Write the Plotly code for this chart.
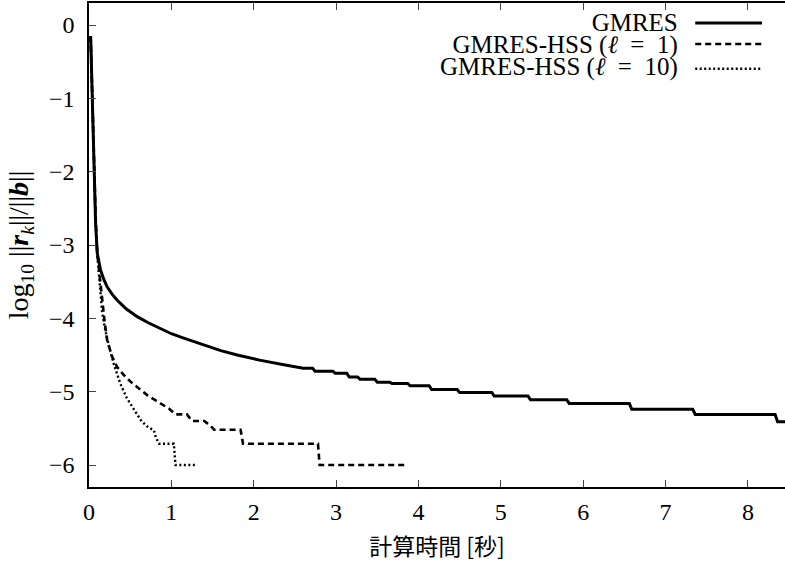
import plotly.graph_objects as go

# ---- data ----
gmres_t = [0.02, 0.04, 0.06, 0.08, 0.10, 0.14, 0.18, 0.22, 0.28, 0.34, 0.45, 0.59, 0.72, 0.87, 1.00, 1.15,
           1.30, 1.45, 1.60, 1.80, 2.07, 2.35, 2.60,
           2.715, 2.745, 2.96, 2.99, 3.13, 3.16, 3.26, 3.29, 3.47, 3.50, 3.65, 3.68, 3.87, 3.90,
           4.13, 4.16, 4.47, 4.50, 4.89, 4.92, 5.33, 5.36, 5.80, 5.83, 6.56, 6.59, 7.33, 7.36,
           8.33, 8.36, 8.60]
gmres_r = [-0.15, -1.0, -2.0, -2.7, -3.11, -3.34, -3.47, -3.57, -3.67, -3.75, -3.87, -3.98, -4.06, -4.14, -4.21, -4.27,
           -4.33, -4.39, -4.44, -4.50, -4.57, -4.63, -4.68,
           -4.68, -4.72, -4.72, -4.75, -4.75, -4.80, -4.80, -4.83, -4.83, -4.87, -4.87, -4.89, -4.89, -4.92,
           -4.92, -4.97, -4.97, -5.01, -5.01, -5.06, -5.06, -5.11, -5.11, -5.16, -5.16, -5.24, -5.24, -5.31,
           -5.31, -5.41, -5.41]

hss1_t = [0.02, 0.04, 0.06, 0.08, 0.10, 0.13, 0.16, 0.19, 0.22, 0.28, 0.34, 0.42, 0.51, 0.63, 0.71,
          0.81, 0.97, 1.05, 1.19, 1.25, 1.40, 1.48, 1.52, 1.84, 1.87, 2.78, 2.80, 3.83]
hss1_r = [-0.15, -1.0, -2.0, -2.6, -3.11, -3.45, -3.75, -4.05, -4.30, -4.52, -4.66, -4.77, -4.87, -4.98, -5.05,
          -5.12, -5.23, -5.31, -5.31, -5.40, -5.40, -5.47, -5.52, -5.52, -5.71, -5.71, -6.0, -6.0]

hss10_t = [0.02, 0.04, 0.06, 0.08, 0.10, 0.13, 0.16, 0.20, 0.24, 0.30, 0.38, 0.46, 0.55, 0.63, 0.70,
           0.79, 0.81, 0.85, 1.03, 1.05, 1.30]
hss10_r = [-0.15, -1.0, -2.0, -2.7, -3.11, -3.5, -3.93, -4.17, -4.37, -4.62, -4.89, -5.09, -5.25, -5.39, -5.47,
           -5.53, -5.62, -5.71, -5.71, -6.0, -6.0]

series_names = ["GMRES", "GMRES-HSS (<i>ℓ</i>\u2002=\u20021)", "GMRES-HSS (<i>ℓ</i>\u2002=\u200210)"]
x_ticks = [0, 1, 2, 3, 4, 5, 6, 7, 8]
y_ticks = [0, -1, -2, -3, -4, -5, -6]

SERIF = "Liberation Serif, DejaVu Serif, serif"
styles = [dict(width=3, dash="solid"), dict(width=2.6, dash="6px,4px"), dict(width=2.4, dash="2px,2.5px")]

fig = go.Figure()
for t, r, name, st in zip([gmres_t, hss1_t, hss10_t], [gmres_r, hss1_r, hss10_r], series_names, styles):
    fig.add_trace(go.Scatter(x=t, y=r, mode="lines", name=name, showlegend=False,
                             line=dict(color="black", width=st["width"], dash=st["dash"])))

# custom legend: one right-aligned text block (tight rows), samples on the right
legend_text = "<br>".join('<span style="font-size:25px">%s</span>' % n for n in series_names)
fig.add_annotation(x=0.849, y=0.9134, xref="paper", yref="paper", text=legend_text, showarrow=False,
                   xanchor="right", yanchor="middle", align="right",
                   font=dict(family=SERIF, size=17, color="black"))
leg_line_y = [0.9587, 0.9154, 0.8640]
for st, ly in zip(styles, leg_line_y):
    fig.add_shape(type="line", xref="paper", yref="paper", x0=0.871, x1=0.967, y0=ly, y1=ly,
                  line=dict(color="black", width=st["width"], dash=st["dash"]))

fig.update_layout(
    width=785, height=567,
    margin=dict(l=89, r=0, t=3, b=80),
    plot_bgcolor="white", paper_bgcolor="white",
    font=dict(family=SERIF, size=24, color="black"),
    xaxis=dict(range=[0, 8.45], tickvals=x_ticks, ticks="inside", ticklen=7, tickwidth=1.2,
               showline=True, linecolor="black", linewidth=1.5, mirror="ticks", showgrid=False,
               zeroline=False, tickfont=dict(family=SERIF, size=24), ticklabelstandoff=2,
               title=dict(text="計算時間 [秒]", standoff=15,
                          font=dict(family="Noto Sans CJK JP, Liberation Serif", size=23))),
    yaxis=dict(range=[-6.3, 0.3], tickvals=y_ticks, ticks="inside", ticklen=7, tickwidth=1.2,
               showline=True, linecolor="black", linewidth=1.5, mirror=False, showgrid=False,
               zeroline=False, tickfont=dict(family=SERIF, size=24), ticklabelstandoff=8,
               title=dict(text="log<sub>10</sub> ||<b><i>r</i></b><sub><i>k</i></sub>||/||<b><i>b</i></b>||",
                          standoff=12, font=dict(family=SERIF, size=28))),
)

fig.write_html("out.html", config={"displayModeBar": False},
               post_script="document.body.style.margin='0';")
